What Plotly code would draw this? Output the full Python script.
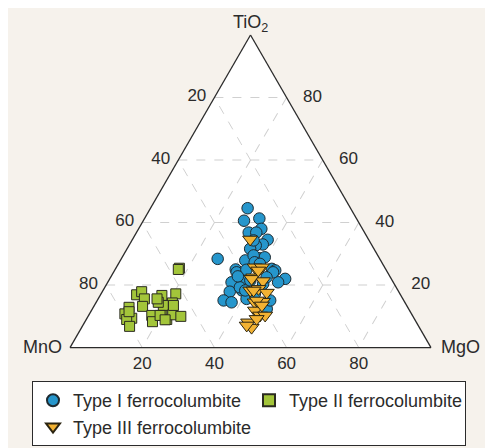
import plotly.graph_objects as go

# Compositions (%): TiO2, MnO, MgO
type1_tio2 = [44.6, 40.6, 41.3, 38.0, 36.8, 36.8, 34.5, 33.0, 32.7, 31.6, 28.4, 27.9, 28.6, 28.9,
              29.5, 25.2, 25.0, 27.3, 24.1, 20.9, 17.9, 15.1, 14.5, 22.0, 18.3, 24.7, 22.0, 20.9,
              12.4, 15.6, 24.1, 19.3, 18.3, 20.4, 22.5, 34.3, 24.9, 21.5, 17.2, 22.8, 26.8, 15.1]
type1_mno = [28.5, 31.5, 26.9, 28.0, 32.1, 30.0, 28.0, 30.1, 32.2, 34.3, 44.9, 37.5, 33.3, 31.6,
             34.4, 31.5, 41.6, 35.2, 41.8, 44.8, 46.8, 49.9, 48.0, 41.0, 43.2, 30.8, 29.4, 31.9,
             39.3, 43.3, 31.7, 43.3, 42.3, 36.3, 34.3, 32.0, 38.7, 39.3, 40.2, 42.1, 34.0, 37.0]
type1_mgo = [26.9, 27.9, 31.8, 34.0, 31.1, 33.2, 37.5, 36.9, 35.1, 34.1, 26.7, 34.6, 38.1, 39.5,
             36.1, 43.3, 33.4, 37.5, 34.1, 34.3, 35.3, 35.0, 37.5, 37.0, 38.5, 44.5, 48.6, 47.2,
             48.3, 41.1, 44.2, 37.4, 39.4, 43.3, 43.2, 33.7, 36.4, 39.2, 42.6, 35.1, 39.2, 47.9]

type2_tio2 = [25.4, 25.0, 16.9, 17.9, 15.6, 13.2, 16.7, 17.2, 14.3, 13.5, 14.5, 12.9, 10.8, 9.4,
              9.0, 6.8, 10.3, 8.3, 10.3, 9.0, 10.5, 10.0, 13.5, 15.6, 10.3, 8.9, 11.5]
type2_mno = [57.0, 57.5, 73.1, 71.2, 71.6, 73.3, 66.2, 62.1, 64.5, 67.4, 68.3, 77.2, 79.4, 78.2,
             79.8, 80.1, 72.2, 73.0, 69.4, 68.7, 66.3, 64.3, 64.6, 68.1, 69.9, 69.2, 77.9]
type2_mgo = [17.6, 17.5, 10.0, 10.9, 12.8, 13.5, 17.1, 20.7, 21.2, 19.1, 17.2, 9.9, 9.8, 12.4,
             11.2, 13.1, 17.5, 18.7, 20.3, 22.3, 23.2, 25.7, 21.9, 16.3, 19.8, 21.9, 10.6]

type3_tio2 = [34.6, 25.7, 25.7, 22.5, 21.3, 18.3, 18.8, 17.6, 14.5, 14.7, 11.9, 10.3, 10.3, 8.1,
              6.4, 9.2, 7.1, 15.1, 22.0, 18.3, 13.5, 24.7]
type3_mno = [32.8, 36.0, 34.0, 38.0, 35.9, 40.9, 38.4, 36.7, 41.6, 39.2, 42.8, 42.2, 40.8, 46.6,
             46.5, 43.7, 47.5, 40.7, 38.7, 40.0, 40.1, 35.5]
type3_mgo = [32.6, 38.3, 40.3, 39.5, 42.8, 40.8, 42.8, 45.7, 43.9, 46.1, 45.3, 47.5, 48.9, 45.3,
             47.1, 47.1, 45.4, 44.2, 39.3, 41.7, 46.4, 39.8]

tick_vals = [20, 40, 60, 80]
tick_text = ["80", "60", "40", "20"]
series_names = ["Type I ferrocolumbite", "Type II ferrocolumbite", "Type III ferrocolumbite"]

W, H = 493, 448
FONT = "Liberation Sans, Arial, sans-serif"
TXT = "#2b2b2b"

fig = go.Figure()
fig.add_trace(go.Scatterternary(
    a=type1_tio2, b=type1_mno, c=type1_mgo, mode="markers", name=series_names[0],
    marker=dict(symbol="circle", size=11.5, color="#2696cc", line=dict(color="#1e2a30", width=1))))
fig.add_trace(go.Scatterternary(
    a=type2_tio2, b=type2_mno, c=type2_mgo, mode="markers", name=series_names[1],
    marker=dict(symbol="square", size=10, color="#a3c53a", line=dict(color="#2b2b20", width=1))))
fig.add_trace(go.Scatterternary(
    a=type3_tio2, b=type3_mno, c=type3_mgo, mode="markers", name=series_names[2],
    marker=dict(symbol="triangle-down", size=13, color="#f2b233", line=dict(color="#2b2410", width=1))))


def axis(ticklen, labels):
    return dict(
        tickmode="array", tickvals=tick_vals, ticktext=labels,
        ticks="outside" if ticklen else "", ticklen=ticklen, tickcolor="rgba(0,0,0,0)",
        showline=True, linecolor="#2b2b2b", linewidth=1.3,
        showgrid=True, gridcolor="#d0d0d0", gridwidth=1, griddash="dash",
        tickfont=dict(family=FONT, size=17, color=TXT), title=dict(text=""), min=0,
    )


right_labels = ["\u00a0\u00a0\u00a0" + t for t in tick_text]

fig.update_layout(
    width=W, height=H,
    margin=dict(l=0, r=0, t=0, b=0),
    paper_bgcolor="#f6f2ec",
    font=dict(family=FONT, color=TXT),
    ternary=dict(
        sum=100,
        bgcolor="white",
        domain=dict(x=[0.0919, 0.8919], y=[0.2419, 0.9397]),
        aaxis=axis(5, tick_text), baxis=axis(0, tick_text), caxis=axis(0, right_labels),
    ),
    showlegend=True,
    legend=dict(
        orientation="h", x=24 / W, y=1 - 373 / H, xanchor="left", yanchor="top",
        bgcolor="white", bordercolor="#2b2b2b", borderwidth=1,
        font=dict(family=FONT, size=18, color=TXT), itemsizing="constant",
        tracegroupgap=0, itemwidth=30, entrywidth=171, entrywidthmode="pixels",
    ),
    annotations=[
        dict(text="TiO<sub>2</sub>", x=242.5 / W, y=1 - 16 / H, xref="paper", yref="paper",
             xanchor="center", yanchor="middle", showarrow=False, font=dict(family=FONT, size=18, color=TXT)),
        dict(text="MnO", x=56 / W, y=1 - 339 / H, xref="paper", yref="paper",
             xanchor="right", yanchor="middle", showarrow=False, font=dict(family=FONT, size=18, color=TXT)),
        dict(text="MgO", x=430.5 / W, y=1 - 339 / H, xref="paper", yref="paper",
             xanchor="left", yanchor="middle", showarrow=False, font=dict(family=FONT, size=18, color=TXT)),
    ],
)

fig.write_html("out.html")
